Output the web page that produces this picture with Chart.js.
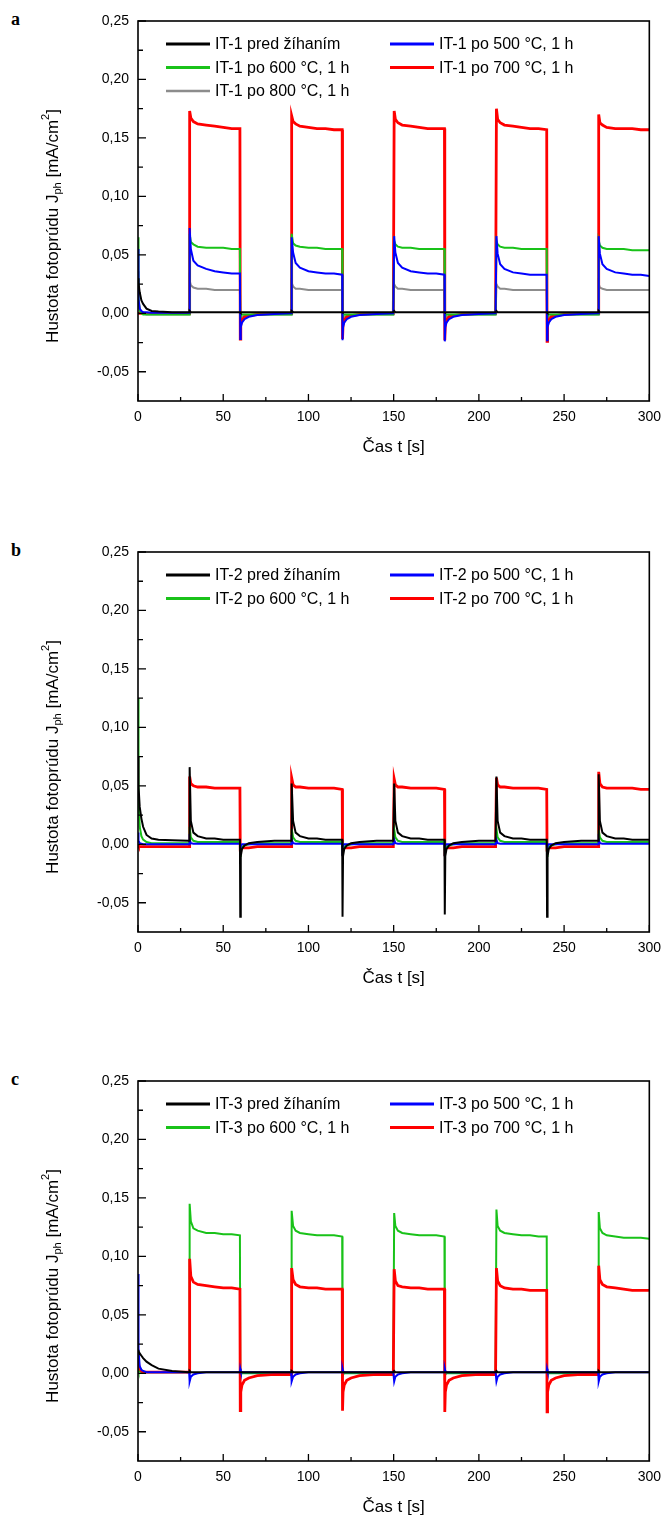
<!DOCTYPE html>
<html><head><meta charset="utf-8">
<script src="https://cdn.jsdelivr.net/npm/chart.js@4/dist/chart.umd.min.js"></script>
<style>
body{margin:0;background:#fff;width:669px;height:1517px;position:relative;overflow:hidden}
.p{position:absolute;left:0;width:669px;height:470px}
.lbl{position:absolute;left:11px;font:bold 18px "Liberation Serif",serif;color:#000}
</style></head><body>
<div class="lbl" style="top:9px">a</div>
<div class="lbl" style="top:540px">b</div>
<div class="lbl" style="top:1069px">c</div>
<div class="p" style="top:0px"><canvas id="ca" width="669" height="470"></canvas></div>
<div class="p" style="top:531px"><canvas id="cb" width="669" height="470"></canvas></div>
<div class="p" style="top:1060px"><canvas id="cc" width="669" height="470"></canvas></div>
<script>
// ---- shared time grid [s] ----
const timeS = [
0, 0.3, 1, 2, 3, 5, 8, 12, 20, 29.8,
30, 30.3, 31, 32.5, 35, 40, 45, 50, 55, 59.8,
60, 60.3, 61, 62.5, 65, 70, 80, 89.8,
90, 90.3, 91, 92.5, 95, 100, 105, 110, 115, 119.8,
120, 120.3, 121, 122.5, 125, 130, 140, 149.8,
150, 150.3, 151, 152.5, 155, 160, 165, 170, 175, 179.8,
180, 180.3, 181, 182.5, 185, 190, 200, 209.8,
210, 210.3, 211, 212.5, 215, 220, 225, 230, 235, 239.8,
240, 240.3, 241, 242.5, 245, 250, 260, 269.8,
270, 270.3, 271, 272.5, 275, 280, 285, 290, 295, 300];

const xTickValues = [0, 50, 100, 150, 200, 250, 300];
const xMinorTicks = [25, 75, 125, 175, 225, 275];
const yTickValues = [-0.05, 0, 0.05, 0.10, 0.15, 0.20, 0.25];
const yMinorTicks = [-0.025, 0.025, 0.075, 0.125, 0.175, 0.225];
const seriesColors = ['#000000', '#0000ff', '#19c219', '#ff0000', '#8c8c8c'];

// ---- panel a (IT-1) ----
const aLabels = ['IT-1 pred žíhaním', 'IT-1 po 500 °C, 1 h', 'IT-1 po 600 °C, 1 h', 'IT-1 po 700 °C, 1 h', 'IT-1 po 800 °C, 1 h'];
const aOrder = [0, 1, 2, 3, 4];
const aBlack = [
0.030, 0.026, 0.018, 0.011, 0.008, 0.004, 0.002, 0.0015, 0.001, 0.001,
0.001, 0.002, 0.001, 0.001, 0.001, 0.001, 0.001, 0.001, 0.001, 0.001,
0.001, 0.0005, 0.001, 0.001, 0.001, 0.001, 0.001, 0.001,
0.001, 0.002, 0.001, 0.001, 0.001, 0.001, 0.001, 0.001, 0.001, 0.001,
0.001, 0.0005, 0.001, 0.001, 0.001, 0.001, 0.001, 0.001,
0.001, 0.002, 0.001, 0.001, 0.001, 0.001, 0.001, 0.001, 0.001, 0.001,
0.001, 0.0005, 0.001, 0.001, 0.001, 0.001, 0.001, 0.001,
0.001, 0.002, 0.001, 0.001, 0.001, 0.001, 0.001, 0.001, 0.001, 0.001,
0.001, 0.0005, 0.001, 0.001, 0.001, 0.001, 0.001, 0.001,
0.001, 0.002, 0.001, 0.001, 0.001, 0.001, 0.001, 0.001, 0.001, 0.001];
const aBlue = [
0.055, 0.012, 0.004, 0.002, 0.001, 0.001, 0.0005, 0.0005, 0.0005, 0.0005,
0.0005, 0.073, 0.055, 0.045, 0.041, 0.038, 0.036, 0.035, 0.034, 0.034,
-0.022, -0.012, -0.008, -0.005, -0.003, -0.0015, -0.0005, 0,
0, 0.065, 0.052, 0.043, 0.039, 0.036, 0.035, 0.034, 0.034, 0.033,
-0.023, -0.012, -0.008, -0.005, -0.003, -0.0015, -0.0005, 0,
0, 0.066, 0.052, 0.043, 0.039, 0.036, 0.035, 0.034, 0.034, 0.033,
-0.024, -0.012, -0.008, -0.005, -0.003, -0.0015, -0.0005, 0,
0, 0.066, 0.051, 0.042, 0.038, 0.035, 0.034, 0.033, 0.033, 0.033,
-0.023, -0.012, -0.008, -0.005, -0.003, -0.0015, -0.0005, 0,
0, 0.066, 0.051, 0.042, 0.038, 0.035, 0.034, 0.033, 0.033, 0.032];
const aGreen = [
0.065, 0.012, 0.002, 0, -0.001, -0.001, -0.001, -0.001, -0.001, -0.001,
-0.001, 0.068, 0.061, 0.059, 0.057, 0.056, 0.056, 0.056, 0.055, 0.055,
-0.003, -0.002, -0.001, -0.001, -0.001, -0.001, -0.001, -0.001,
-0.001, 0.068, 0.060, 0.058, 0.057, 0.056, 0.056, 0.055, 0.055, 0.055,
-0.003, -0.002, -0.001, -0.001, -0.001, -0.001, -0.001, -0.001,
-0.001, 0.062, 0.059, 0.057, 0.056, 0.056, 0.055, 0.055, 0.055, 0.055,
-0.003, -0.002, -0.001, -0.001, -0.001, -0.001, -0.001, -0.001,
-0.001, 0.062, 0.059, 0.057, 0.056, 0.056, 0.055, 0.055, 0.055, 0.055,
-0.003, -0.002, -0.001, -0.001, -0.001, -0.001, -0.001, -0.001,
-0.001, 0.062, 0.058, 0.056, 0.055, 0.055, 0.055, 0.054, 0.054, 0.054];
const aRed = [
0, 0, 0, 0, 0, 0, 0, 0, 0, 0,
0, 0.173, 0.167, 0.164, 0.162, 0.161, 0.160, 0.159, 0.158, 0.158,
-0.022, -0.010, -0.006, -0.003, -0.002, -0.001, 0, 0,
0, 0.169, 0.164, 0.162, 0.160, 0.159, 0.158, 0.158, 0.157, 0.157,
-0.022, -0.010, -0.006, -0.003, -0.002, -0.001, 0, 0,
0, 0.173, 0.166, 0.163, 0.161, 0.160, 0.159, 0.158, 0.158, 0.158,
-0.023, -0.010, -0.006, -0.003, -0.002, -0.001, 0, 0,
0, 0.175, 0.166, 0.163, 0.161, 0.160, 0.159, 0.158, 0.158, 0.157,
-0.024, -0.010, -0.006, -0.003, -0.002, -0.001, 0, 0,
0, 0.170, 0.163, 0.161, 0.159, 0.158, 0.158, 0.158, 0.157, 0.157];
const aGray = [
0.036, 0.015, 0.004, 0.001, 0, -0.001, -0.001, -0.001, -0.001, -0.001,
-0.001, 0.028, 0.024, 0.022, 0.021, 0.021, 0.020, 0.020, 0.020, 0.020,
-0.007, -0.004, -0.003, -0.002, -0.0015, -0.001, -0.001, -0.001,
-0.001, 0.026, 0.023, 0.021, 0.021, 0.020, 0.020, 0.020, 0.020, 0.020,
-0.007, -0.004, -0.003, -0.002, -0.0015, -0.001, -0.001, -0.001,
-0.001, 0.025, 0.023, 0.021, 0.021, 0.020, 0.020, 0.020, 0.020, 0.020,
-0.007, -0.004, -0.003, -0.002, -0.0015, -0.001, -0.001, -0.001,
-0.001, 0.025, 0.023, 0.021, 0.021, 0.020, 0.020, 0.020, 0.020, 0.020,
-0.007, -0.004, -0.003, -0.002, -0.0015, -0.001, -0.001, -0.001,
-0.001, 0.025, 0.022, 0.021, 0.020, 0.020, 0.020, 0.020, 0.020, 0.020];

// ---- panel b (IT-2) ----
const bLabels = ['IT-2 pred žíhaním', 'IT-2 po 500 °C, 1 h', 'IT-2 po 600 °C, 1 h', 'IT-2 po 700 °C, 1 h'];
const bOrder = [0, 1, 2, 3];
const bBlack = [
0.075, 0.050, 0.032, 0.022, 0.015, 0.008, 0.005, 0.004, 0.0035, 0.003,
0.003, 0.066, 0.020, 0.010, 0.007, 0.005, 0.005, 0.004, 0.004, 0.004,
-0.062, -0.010, -0.004, -0.001, 0.001, 0.002, 0.003, 0.003,
0.003, 0.052, 0.020, 0.010, 0.007, 0.005, 0.005, 0.004, 0.004, 0.004,
-0.062, -0.010, -0.004, -0.001, 0.001, 0.002, 0.003, 0.003,
0.003, 0.052, 0.020, 0.010, 0.007, 0.005, 0.005, 0.004, 0.004, 0.004,
-0.060, -0.010, -0.004, -0.001, 0.001, 0.002, 0.003, 0.003,
0.003, 0.058, 0.020, 0.010, 0.007, 0.005, 0.005, 0.004, 0.004, 0.004,
-0.062, -0.010, -0.004, -0.001, 0.001, 0.002, 0.003, 0.003,
0.003, 0.060, 0.020, 0.010, 0.007, 0.005, 0.005, 0.004, 0.004, 0.004];
const bBlue = [
0.010, 0.003, 0.001, 0.0005, 0, 0, 0, 0, 0, 0,
0, 0.004, 0.001, 0.0005, 0.0005, 0.0005, 0.0005, 0.0005, 0.0005, 0.0005,
-0.003, -0.001, 0, 0, 0, 0, 0, 0,
0, 0.004, 0.001, 0.0005, 0.0005, 0.0005, 0.0005, 0.0005, 0.0005, 0.0005,
-0.003, -0.001, 0, 0, 0, 0, 0, 0,
0, 0.004, 0.001, 0.0005, 0.0005, 0.0005, 0.0005, 0.0005, 0.0005, 0.0005,
-0.003, -0.001, 0, 0, 0, 0, 0, 0,
0, 0.004, 0.001, 0.0005, 0.0005, 0.0005, 0.0005, 0.0005, 0.0005, 0.0005,
-0.003, -0.001, 0, 0, 0, 0, 0, 0,
0, 0.004, 0.001, 0.0005, 0.0005, 0.0005, 0.0005, 0.0005, 0.0005, 0.0005];
const bGreen = [
0.125, 0.040, 0.015, 0.007, 0.004, 0.002, 0.001, 0.001, 0.001, 0.001,
0.001, 0.015, 0.006, 0.003, 0.002, 0.002, 0.002, 0.002, 0.002, 0.002,
-0.010, -0.004, -0.002, -0.001, 0, 0.001, 0.001, 0.001,
0.001, 0.013, 0.006, 0.003, 0.002, 0.002, 0.002, 0.002, 0.002, 0.002,
-0.010, -0.004, -0.002, -0.001, 0, 0.001, 0.001, 0.001,
0.001, 0.013, 0.006, 0.003, 0.002, 0.002, 0.002, 0.002, 0.002, 0.002,
-0.010, -0.004, -0.002, -0.001, 0, 0.001, 0.001, 0.001,
0.001, 0.013, 0.006, 0.003, 0.002, 0.002, 0.002, 0.002, 0.002, 0.002,
-0.010, -0.004, -0.002, -0.001, 0, 0.001, 0.001, 0.001,
0.001, 0.012, 0.006, 0.003, 0.002, 0.002, 0.002, 0.002, 0.002, 0.002];
const bRed = [
0, -0.001, -0.002, -0.002, -0.002, -0.002, -0.002, -0.002, -0.002, -0.002,
-0.002, 0.058, 0.052, 0.050, 0.049, 0.049, 0.048, 0.048, 0.048, 0.048,
-0.005, -0.004, -0.003, -0.003, -0.003, -0.002, -0.002, -0.002,
-0.002, 0.057, 0.051, 0.049, 0.049, 0.048, 0.048, 0.048, 0.048, 0.047,
-0.005, -0.004, -0.003, -0.003, -0.003, -0.002, -0.002, -0.002,
-0.002, 0.056, 0.051, 0.049, 0.049, 0.048, 0.048, 0.048, 0.048, 0.047,
-0.005, -0.004, -0.003, -0.003, -0.003, -0.002, -0.002, -0.002,
-0.002, 0.057, 0.051, 0.049, 0.049, 0.048, 0.048, 0.048, 0.048, 0.047,
-0.005, -0.004, -0.003, -0.003, -0.003, -0.002, -0.002, -0.002,
-0.002, 0.062, 0.052, 0.049, 0.048, 0.048, 0.048, 0.048, 0.047, 0.047];

// ---- panel c (IT-3) ----
const cLabels = ['IT-3 pred žíhaním', 'IT-3 po 500 °C, 1 h', 'IT-3 po 600 °C, 1 h', 'IT-3 po 700 °C, 1 h'];
const cOrder = [0, 1, 3, 2];
const cBlack = [
0.020, 0.019, 0.017, 0.015, 0.013, 0.010, 0.007, 0.004, 0.002, 0.001,
0.001, 0.002, 0.001, 0.001, 0.001, 0.001, 0.001, 0.001, 0.001, 0.001,
0.001, 0.001, 0.001, 0.001, 0.001, 0.001, 0.001, 0.001,
0.001, 0.002, 0.001, 0.001, 0.001, 0.001, 0.001, 0.001, 0.001, 0.001,
0.001, 0.001, 0.001, 0.001, 0.001, 0.001, 0.001, 0.001,
0.001, 0.002, 0.001, 0.001, 0.001, 0.001, 0.001, 0.001, 0.001, 0.001,
0.001, 0.001, 0.001, 0.001, 0.001, 0.001, 0.001, 0.001,
0.001, 0.002, 0.001, 0.001, 0.001, 0.001, 0.001, 0.001, 0.001, 0.001,
0.001, 0.001, 0.001, 0.001, 0.001, 0.001, 0.001, 0.001,
0.001, 0.002, 0.001, 0.001, 0.001, 0.001, 0.001, 0.001, 0.001, 0.001];
const cBlue = [
0.085, 0.020, 0.006, 0.003, 0.002, 0.001, 0.001, 0.001, 0.001, 0.001,
0.001, -0.007, -0.003, -0.001, 0, 0.001, 0.001, 0.001, 0.001, 0.001,
0.004, 0.002, 0.001, 0.001, 0.001, 0.001, 0.001, 0.001,
0.001, -0.007, -0.003, -0.001, 0, 0.001, 0.001, 0.001, 0.001, 0.001,
0.004, 0.002, 0.001, 0.001, 0.001, 0.001, 0.001, 0.001,
0.001, -0.007, -0.003, -0.001, 0, 0.001, 0.001, 0.001, 0.001, 0.001,
0.004, 0.002, 0.001, 0.001, 0.001, 0.001, 0.001, 0.001,
0.001, -0.007, -0.003, -0.001, 0, 0.001, 0.001, 0.001, 0.001, 0.001,
0.004, 0.002, 0.001, 0.001, 0.001, 0.001, 0.001, 0.001,
0.001, -0.007, -0.003, -0.001, 0, 0.001, 0.001, 0.001, 0.001, 0.001];
const cGreen = [
0.005, 0.003, 0.002, 0.001, 0.001, 0.001, 0.001, 0.001, 0.001, 0.001,
0.001, 0.145, 0.130, 0.124, 0.122, 0.120, 0.120, 0.119, 0.119, 0.118,
-0.002, -0.001, 0, 0, 0, 0, 0, 0,
0, 0.139, 0.126, 0.122, 0.120, 0.119, 0.118, 0.118, 0.118, 0.117,
-0.002, -0.001, 0, 0, 0, 0, 0, 0,
0, 0.137, 0.126, 0.122, 0.120, 0.119, 0.118, 0.118, 0.118, 0.117,
-0.002, -0.001, 0, 0, 0, 0, 0, 0,
0, 0.140, 0.126, 0.122, 0.120, 0.119, 0.118, 0.118, 0.117, 0.117,
-0.002, -0.001, 0, 0, 0, 0, 0, 0,
0, 0.138, 0.124, 0.120, 0.118, 0.117, 0.116, 0.116, 0.116, 0.115];
const cRed = [
0.015, 0.008, 0.004, 0.002, 0.001, 0.001, 0.001, 0.001, 0.001, 0.001,
0.001, 0.098, 0.083, 0.078, 0.076, 0.075, 0.074, 0.073, 0.073, 0.072,
-0.032, -0.016, -0.010, -0.006, -0.004, -0.002, -0.001, -0.001,
-0.001, 0.090, 0.080, 0.076, 0.074, 0.073, 0.073, 0.072, 0.072, 0.072,
-0.032, -0.016, -0.010, -0.006, -0.004, -0.002, -0.001, -0.001,
-0.001, 0.089, 0.079, 0.075, 0.074, 0.073, 0.073, 0.072, 0.072, 0.072,
-0.033, -0.016, -0.010, -0.006, -0.004, -0.002, -0.001, -0.001,
-0.001, 0.090, 0.079, 0.075, 0.073, 0.072, 0.072, 0.071, 0.071, 0.071,
-0.033, -0.016, -0.010, -0.006, -0.004, -0.002, -0.001, -0.001,
-0.001, 0.092, 0.080, 0.076, 0.074, 0.073, 0.072, 0.071, 0.071, 0.071];

const FONT = '"Liberation Sans", Arial, sans-serif';

function fmtComma(v) {
  return v.toFixed(2).replace('.', ',');
}

const framePlugin = {
  id: 'frame',
  afterDatasetsDraw(chart) {
    const {ctx, chartArea: a, scales: {x, y}} = chart;
    ctx.save();
    ctx.strokeStyle = '#000';
    ctx.lineWidth = 1.6;
    ctx.strokeRect(a.left, a.top, a.right - a.left, a.bottom - a.top);
    ctx.lineWidth = 1.3;
    ctx.beginPath();
    xTickValues.forEach(v => { const px = x.getPixelForValue(v); ctx.moveTo(px, a.bottom); ctx.lineTo(px, a.bottom - 7); });
    xMinorTicks.forEach(v => { const px = x.getPixelForValue(v); ctx.moveTo(px, a.bottom); ctx.lineTo(px, a.bottom - 4); });
    yTickValues.forEach(v => { const py = y.getPixelForValue(v); ctx.moveTo(a.left, py); ctx.lineTo(a.left + 8, py); });
    yMinorTicks.forEach(v => { const py = y.getPixelForValue(v); ctx.moveTo(a.left, py); ctx.lineTo(a.left + 5, py); });
    ctx.stroke();
    ctx.restore();
  },
  afterDraw(chart) {
    const {ctx, chartArea: a} = chart;
    ctx.save();
    ctx.fillStyle = '#000';
    ctx.font = '17px ' + FONT;
    ctx.textAlign = 'center';
    ctx.textBaseline = 'middle';
    ctx.fillText('Čas t [s]', (a.left + a.right) / 2, a.bottom + 46);
    const parts = [
      {t: 'Hustota fotoprúdu J', s: 17, dy: 0},
      {t: 'ph', s: 11, dy: 5},
      {t: ' [mA/cm', s: 17, dy: 0},
      {t: '2', s: 11, dy: -7},
      {t: ']', s: 17, dy: 0}
    ];
    let total = 0;
    parts.forEach(p => { ctx.font = p.s + 'px ' + FONT; p.w = ctx.measureText(p.t).width; total += p.w; });
    ctx.translate(53, a.top + 205);
    ctx.rotate(-Math.PI / 2);
    ctx.textAlign = 'left';
    let xx = -total / 2;
    parts.forEach(p => { ctx.font = p.s + 'px ' + FONT; ctx.fillText(p.t, xx, p.dy); xx += p.w; });
    ctx.restore();
    const ds = chart.data.datasets;
    const slots = [[0, 0], [1, 0], [0, 1], [1, 1], [0, 2]];
    ctx.save();
    ctx.font = '16px ' + FONT;
    ctx.textBaseline = 'middle';
    ctx.textAlign = 'left';
    ds.forEach((d, i) => {
      const [col, row] = slots[i];
      const x0 = a.left + (col === 0 ? 28 : 252);
      const yy = a.top + 23 + row * 23.5;
      ctx.strokeStyle = d.borderColor;
      ctx.lineWidth = i === 4 ? 2.5 : 3;
      ctx.beginPath(); ctx.moveTo(x0, yy); ctx.lineTo(x0 + 44, yy); ctx.stroke();
      ctx.fillStyle = '#000';
      ctx.fillText(d.label, x0 + 49, yy + 1);
    });
    ctx.restore();
  }
};

function makeChart(id, labels, series, order) {
  const datasets = series.map((vals, i) => ({
    label: labels[i],
    data: vals.map((v, k) => ({x: timeS[k], y: v})),
    borderColor: seriesColors[i],
    backgroundColor: seriesColors[i],
    borderWidth: i === 3 ? 2.8 : 2,
    order: order[i],
    pointRadius: 0,
    tension: 0,
    fill: false
  }));
  return new Chart(document.getElementById(id), {
    type: 'line',
    data: {datasets},
    plugins: [framePlugin],
    options: {
      responsive: false,
      animation: false,
      devicePixelRatio: 1,
      layout: {padding: {top: 21, right: 16, left: 0, bottom: 0}},
      plugins: {legend: {display: false}, tooltip: {enabled: false}},
      scales: {
        x: {
          type: 'linear', min: 0, max: 300,
          grid: {display: false, drawTicks: false},
          border: {display: false},
          afterBuildTicks: s => { s.ticks = xTickValues.map(v => ({value: v})); },
          ticks: {font: {family: FONT, size: 14}, color: '#000', padding: 8, maxRotation: 0, autoSkip: false},
          afterFit: s => { s.height = 69; }
        },
        y: {
          type: 'linear', min: -0.075, max: 0.25,
          grid: {display: false, drawTicks: false},
          border: {display: false},
          afterBuildTicks: s => { s.ticks = yTickValues.map(v => ({value: v})); },
          ticks: {font: {family: FONT, size: 14}, color: '#000', padding: 9, autoSkip: false, callback: v => fmtComma(v)},
          afterFit: s => { s.width = 138; }
        }
      }
    }
  });
}

makeChart('ca', aLabels, [aBlack, aBlue, aGreen, aRed, aGray], aOrder);
makeChart('cb', bLabels, [bBlack, bBlue, bGreen, bRed], bOrder);
makeChart('cc', cLabels, [cBlack, cBlue, cGreen, cRed], cOrder);
</script>
</body></html>
